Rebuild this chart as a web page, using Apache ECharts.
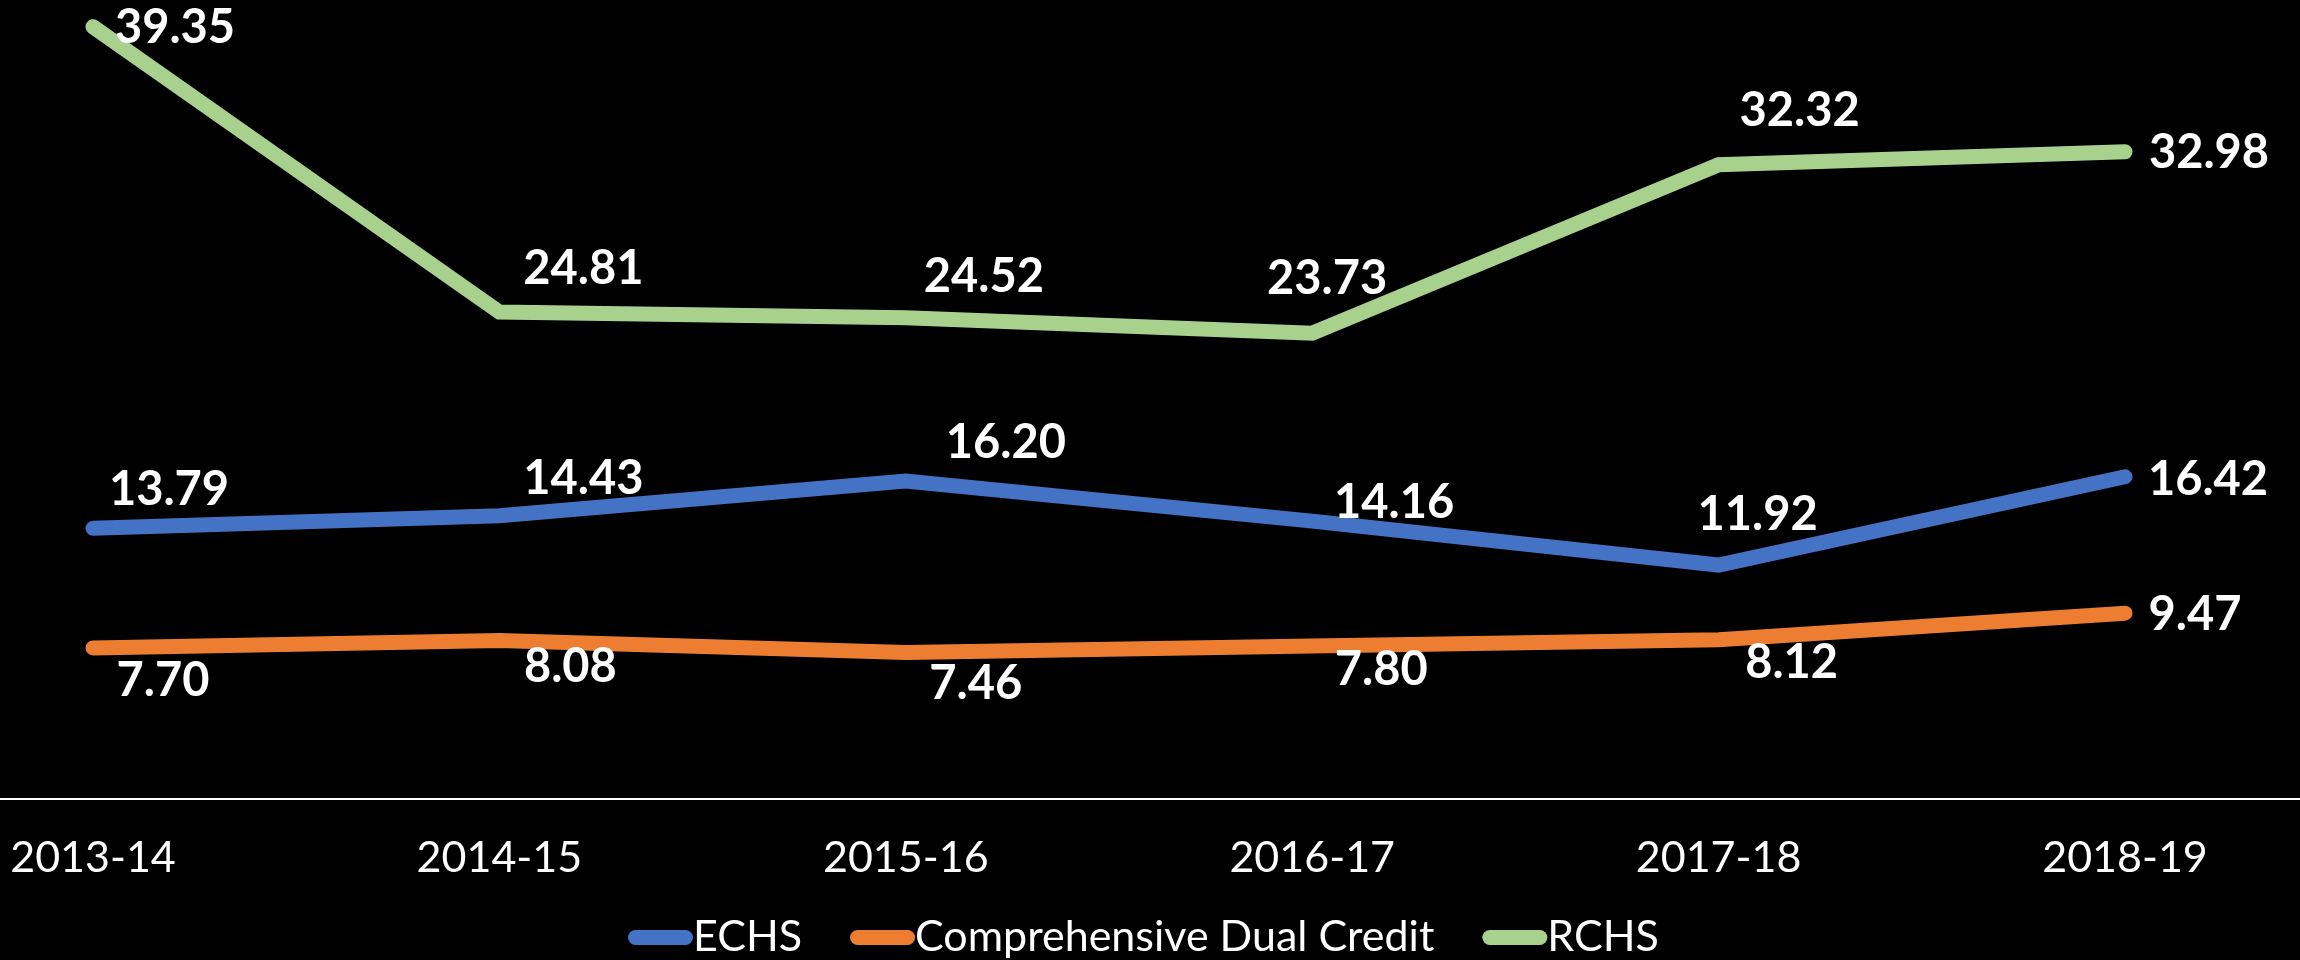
<!DOCTYPE html>
<html>
<head>
<meta charset="utf-8">
<script src="https://cdn.jsdelivr.net/npm/echarts@6/dist/echarts.min.js"></script>
<style>
  html, body { margin: 0; padding: 0; background: #000; }
  #chart { width: 2300px; height: 960px; }
</style>
</head>
<body>
<div id="chart"></div>
<script>
const years = ['2013-14', '2014-15', '2015-16', '2016-17', '2017-18', '2018-19']
const echs = [13.79, 14.43, 16.20, 14.16, 11.92, 16.42]
const dualCredit = [7.70, 8.08, 7.46, 7.80, 8.12, 9.47]
const rchs = [39.35, 24.81, 24.52, 23.73, 32.32, 32.98]

// where each value label sits relative to its point (centre offsets)
const echsLabelPos = [[76, -39], [84, -37], [100, -38], [82, -18], [39, -50], [83, 3]]
const dualLabelPos = [[70, 33], [71, 26], [70, 31], [69, 24], [73, 23], [70, 2]]
const rchsLabelPos = [[82, 1], [84, -43], [78, -41], [15, -54], [81, -54], [84, 1]]

const font = 'Lato'

function makeSeries(name, values, offsets, color) {
  return {
    name: name,
    type: 'line',
    symbol: 'circle',
    symbolSize: 2,
    itemStyle: { color: color },
    lineStyle: { color: color, width: 15, cap: 'round', join: 'miter' },
    label: {
      show: true,
      position: 'inside',
      color: '#fff',
      fontFamily: font,
      fontWeight: 'bold',
      fontSize: 47,
      formatter: p => Number(p.value).toFixed(2)
    },
    data: values.map((v, i) => ({ value: v, label: { offset: offsets[i] } }))
  }
}

const chart = echarts.init(document.getElementById('chart'))
chart.setOption({
  backgroundColor: '#000',
  animation: false,
  legend: {
    left: 628,
    top: 916,
    padding: 0,
    itemGap: 48,
    itemWidth: 65,
    itemHeight: 15,
    icon: 'path://M7.5,0 L57.5,0 A7.5,7.5 0 0 1 57.5,15 L7.5,15 A7.5,7.5 0 0 1 7.5,0 Z',
    textStyle: {
      color: '#fff',
      fontFamily: font,
      fontSize: 43,
      lineHeight: 43,
      padding: [0, 0, 0, -5]
    },
    data: ['ECHS', 'Comprehensive Dual Credit', 'RCHS']
  },
  grid: [
    { left: 93, right: 175, top: 14, bottom: 161, containLabel: false },
    // full-width grid, only used for the baseline
    { left: 0, right: 0, top: 14, bottom: 161, containLabel: false }
  ],
  xAxis: [
    {
      type: 'category',
      gridIndex: 0,
      boundaryGap: false,
      data: years,
      axisLine: { show: false },
      axisTick: { show: false },
      axisLabel: {
        color: '#fff',
        fontFamily: font,
        fontSize: 43,
        lineHeight: 43,
        margin: 38
      }
    },
    {
      type: 'category',
      gridIndex: 1,
      data: years,
      axisLine: { lineStyle: { color: '#fff', width: 2 } },
      axisTick: { show: false },
      axisLabel: { show: false }
    }
  ],
  yAxis: [
    { type: 'value', gridIndex: 0, min: 0, max: 40, show: false, splitLine: { show: false } },
    { type: 'value', gridIndex: 1, min: 0, max: 40, show: false, splitLine: { show: false } }
  ],
  series: [
    makeSeries('ECHS', echs, echsLabelPos, '#4472C4'),
    makeSeries('Comprehensive Dual Credit', dualCredit, dualLabelPos, '#ED7D31'),
    makeSeries('RCHS', rchs, rchsLabelPos, '#A9D18E')
  ]
})
</script>
</body>
</html>
